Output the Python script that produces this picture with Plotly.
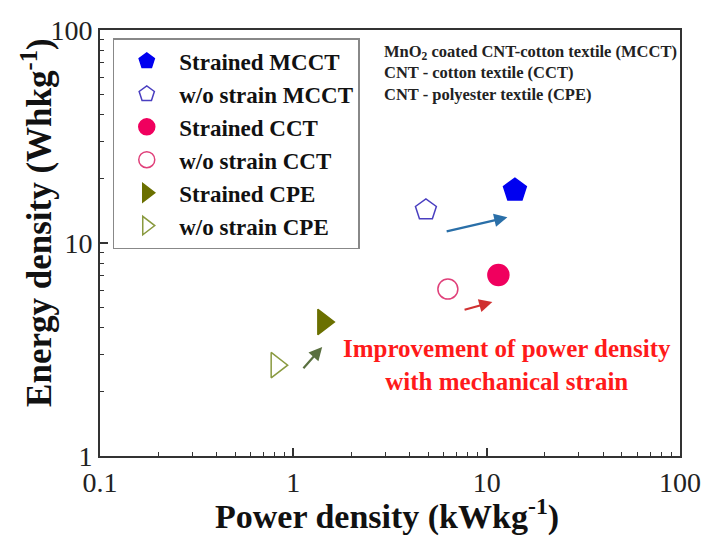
import math
import plotly.graph_objects as go

# Data (power density kW/kg, energy density Wh/kg)
names = ["Strained MCCT", "w/o strain MCCT", "Strained CCT", "w/o strain CCT", "Strained CPE", "w/o strain CPE"]
power = [14.0, 4.85, 11.5, 6.3, 1.43, 0.82]
energy = [17.7, 14.3, 7.08, 6.08, 4.26, 2.67]
symbols = ["pentagon", "pentagon-open", "circle", "circle-open", "triangle-right", "triangle-right-open"]
colors = ["#0000f0", "#4a3fc0", "#f0005e", "#e0407a", "#6b7000", "#8a9a40"]
sizes = [24, 22, 21, 20, 22, 22]

# Arrows: (x0, y0) -> (x1, y1)
arrow_start_x = [6.1, 7.55, 1.11]
arrow_start_y = [11.3, 4.84, 2.54]
arrow_end_x = [12.8, 10.7, 1.41]
arrow_end_y = [13.2, 5.28, 3.25]
arrow_colors = ["#2a6fa8", "#d03030", "#5a7040"]

# Axis ticks
major_x = [0.1, 1, 10, 100]
major_x_text = ["0.1", "1", "10", "100"]
major_y = [1, 10, 100]
major_y_text = ["1", "10", "100"]
minor_x = [m * d for d in (0.1, 1, 10) for m in range(2, 10)]
minor_y = [m * d for d in (1, 10) for m in range(2, 10)]

font_family = "Liberation Serif, Times New Roman, serif"

fig = go.Figure()
for i, n in enumerate(names):
    fig.add_trace(go.Scatter(
        x=[power[i]], y=[energy[i]], mode="markers", name=n,
        marker=dict(symbol=symbols[i], size=sizes[i], color=colors[i],
                    line=dict(width=1.5, color=colors[i])),
    ))

for i in range(3):
    fig.add_annotation(
        x=math.log10(arrow_end_x[i]), y=math.log10(arrow_end_y[i]),
        ax=math.log10(arrow_start_x[i]), ay=math.log10(arrow_start_y[i]),
        xref="x", yref="y", axref="x", ayref="y",
        showarrow=True, arrowhead=2, arrowsize=1.2, arrowwidth=2.2,
        arrowcolor=arrow_colors[i], text="",
    )

fig.add_annotation(
    x=math.log10(12.8), y=math.log10(2.67), xref="x", yref="y",
    text="Improvement of power density<br>with mechanical strain",
    showarrow=False, align="center",
    font=dict(family=font_family, size=25, color="#ff1a1a", weight="bold"),
)

fig.add_annotation(
    x=0.486, y=0.976, xref="paper", yref="paper", xanchor="left", yanchor="top",
    text="MnO<sub>2</sub> coated CNT-cotton textile (MCCT)<br>CNT - cotton textile (CCT)<br>CNT - polyester textile (CPE)",
    showarrow=False, align="left",
    font=dict(family=font_family, size=16.5, color="#222222", weight="bold"),
)

# axis titles as annotations
fig.add_annotation(
    x=0.495, y=-0.138, xref="paper", yref="paper", xanchor="center", yanchor="middle",
    text="Power density (kWkg<sup>-1</sup>)", showarrow=False,
    font=dict(family=font_family, size=34, color="#111111", weight="bold"),
)
fig.add_annotation(
    x=-0.109, y=0.549, xref="paper", yref="paper", xanchor="center", yanchor="middle",
    text="Energy density (Whkg<sup>-1</sup>)", showarrow=False, textangle=-90,
    font=dict(family=font_family, size=35, color="#111111", weight="bold"),
)

tickfont = dict(family=font_family, size=28, color="#222222")
base = dict(type="log", showgrid=False, zeroline=False, automargin=False,
            showline=True, linecolor="#333333", linewidth=2, mirror=True,
            ticks="inside", ticklen=8, tickwidth=1.5, tickcolor="#333333",
            tickfont=tickfont)

fig.update_layout(
    width=701, height=530,
    margin=dict(l=92, r=29, t=22, b=82),
    paper_bgcolor="white", plot_bgcolor="white",
    xaxis=dict(range=[-1, 2], tickmode="array", tickvals=major_x, ticktext=major_x_text,
               minor=dict(tickmode="array", tickvals=minor_x, ticks="inside", ticklen=4,
                          tickwidth=1, tickcolor="#333333", showgrid=False),
               **base),
    yaxis=dict(range=[0, 2], tickmode="array", tickvals=major_y, ticktext=major_y_text,
               minor=dict(tickmode="array", tickvals=minor_y, ticks="inside", ticklen=4,
                          tickwidth=1, tickcolor="#333333", showgrid=False),
               **base),
    legend=dict(x=0.022, y=0.981, xanchor="left", yanchor="top",
                bgcolor="white", bordercolor="#888888", borderwidth=1.5,
                itemwidth=55,
                font=dict(family=font_family, size=23, color="#111111", weight="bold")),
    showlegend=True,
)

fig.write_html("out.html")
